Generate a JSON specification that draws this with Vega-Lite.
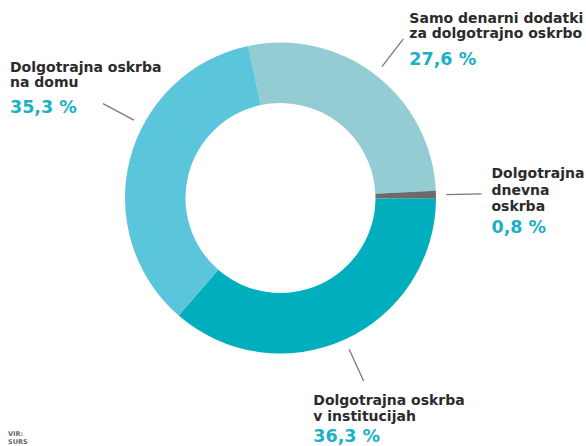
{
  "$schema": "https://vega.github.io/schema/vega-lite/v6.json",
  "width": 561,
  "height": 396,
  "autosize": {"type": "none"},
  "padding": {"left": 0, "top": 0, "right": 25, "bottom": 50},
  "background": "white",
  "view": {"stroke": null},
  "title": {
    "text": ["VIR:", "SURS"],
    "orient": "bottom",
    "anchor": "start",
    "frame": "group",
    "offset": -14,
    "dx": 8,
    "font": "DejaVu Sans",
    "fontSize": 6.5,
    "fontWeight": "bold",
    "color": "#666666",
    "lineHeight": 7.5
  },
  "data": {
    "values": [
      {"key": "samo", "ord": 1, "name": "Samo denarni dodatki|za dolgotrajno oskrbo", "value": 27.6, "pct": "27,6 %"},
      {"key": "dnevna", "ord": 2, "name": "Dolgotrajna|dnevna|oskrba", "value": 0.8, "pct": "0,8 %"},
      {"key": "inst", "ord": 3, "name": "Dolgotrajna oskrba|v institucijah", "value": 36.3, "pct": "36,3 %"},
      {"key": "domu", "ord": 4, "name": "Dolgotrajna oskrba|na domu", "value": 35.3, "pct": "35,3 %"}
    ]
  },
  "encoding": {
    "theta": {"field": "value", "type": "quantitative", "stack": true, "scale": {"range": [-0.2094, 6.0738]}},
    "order": {"field": "ord", "type": "quantitative"},
    "detail": {"field": "key", "type": "nominal"}
  },
  "layer": [
    {
      "mark": {"type": "arc", "innerRadius": 95, "outerRadius": 155.5},
      "encoding": {
        "color": {
          "field": "key",
          "type": "nominal",
          "scale": {"domain": ["samo", "dnevna", "inst", "domu"], "range": ["#94ccd3", "#6b6b6b", "#00aebd", "#5bc6db"]},
          "legend": null
        }
      }
    },
    {
      "mark": {"type": "arc", "innerRadius": 166, "outerRadius": 201, "padAngle": 3.1416, "filled": false, "stroke": "#7a7a7a", "strokeWidth": 1.3},
      "encoding": {"strokeOpacity": {"condition": {"test": "datum.key === 'domu'", "value": 0}, "value": 1}}
    },
    {
      "mark": {"type": "arc", "innerRadius": 166, "outerRadius": 201, "padAngle": 3.1416, "thetaOffset": 0.236, "theta2Offset": 0.236, "filled": false, "stroke": "#7a7a7a", "strokeWidth": 1.3},
      "encoding": {"strokeOpacity": {"condition": {"test": "datum.key === 'domu'", "value": 1}, "value": 0}}
    },
    {
      "mark": {"type": "text", "radius": 201, "align": "left", "baseline": "alphabetic", "dx": 6, "dy": -16, "font": "DejaVu Sans", "fontWeight": "bold", "fontSize": 14, "lineHeight": 15.5, "lineBreak": "|", "color": "#2b2b2b"},
      "encoding": {"text": {"condition": {"test": "datum.key === 'samo'", "field": "name"}, "value": ""}}
    },
    {
      "mark": {"type": "text", "radius": 201, "align": "left", "baseline": "alphabetic", "dx": 6, "dy": 26, "font": "DejaVu Sans", "fontWeight": "bold", "fontSize": 17.5, "color": "#1cb0c5"},
      "encoding": {"text": {"condition": {"test": "datum.key === 'samo'", "field": "pct"}, "value": ""}}
    },
    {
      "mark": {"type": "text", "radius": 201, "align": "left", "baseline": "alphabetic", "dx": 10, "dy": -15.5, "font": "DejaVu Sans", "fontWeight": "bold", "fontSize": 14, "lineHeight": 16.5, "lineBreak": "|", "color": "#2b2b2b"},
      "encoding": {"text": {"condition": {"test": "datum.key === 'dnevna'", "field": "name"}, "value": ""}}
    },
    {
      "mark": {"type": "text", "radius": 201, "align": "left", "baseline": "alphabetic", "dx": 10, "dy": 39.5, "font": "DejaVu Sans", "fontWeight": "bold", "fontSize": 17.5, "color": "#1cb0c5"},
      "encoding": {"text": {"condition": {"test": "datum.key === 'dnevna'", "field": "pct"}, "value": ""}}
    },
    {
      "mark": {"type": "text", "radius": 201, "align": "left", "baseline": "alphabetic", "dx": -50.3, "dy": 24, "font": "DejaVu Sans", "fontWeight": "bold", "fontSize": 14, "lineHeight": 15.5, "lineBreak": "|", "color": "#2b2b2b"},
      "encoding": {"text": {"condition": {"test": "datum.key === 'inst'", "field": "name"}, "value": ""}}
    },
    {
      "mark": {"type": "text", "radius": 201, "align": "left", "baseline": "alphabetic", "dx": -50.3, "dy": 60.7, "font": "DejaVu Sans", "fontWeight": "bold", "fontSize": 17.5, "color": "#1cb0c5"},
      "encoding": {"text": {"condition": {"test": "datum.key === 'inst'", "field": "pct"}, "value": ""}}
    },
    {
      "mark": {"type": "text", "radius": 201, "align": "left", "baseline": "alphabetic", "dx": -75.9, "dy": -76.1, "font": "DejaVu Sans", "fontWeight": "bold", "fontSize": 14, "lineHeight": 15.5, "lineBreak": "|", "color": "#2b2b2b"},
      "encoding": {"text": {"condition": {"test": "datum.key === 'domu'", "field": "name"}, "value": ""}}
    },
    {
      "mark": {"type": "text", "radius": 201, "align": "left", "baseline": "alphabetic", "dx": -75.9, "dy": -35.1, "font": "DejaVu Sans", "fontWeight": "bold", "fontSize": 17.5, "color": "#1cb0c5"},
      "encoding": {"text": {"condition": {"test": "datum.key === 'domu'", "field": "pct"}, "value": ""}}
    }
  ]
}
